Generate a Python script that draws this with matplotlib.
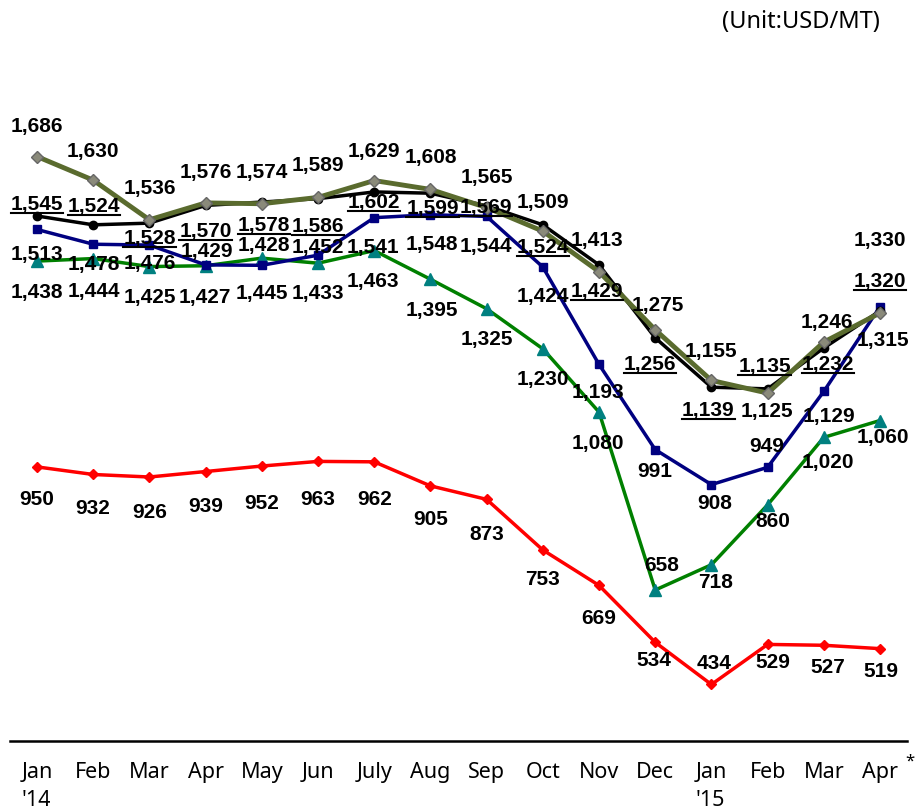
import matplotlib
matplotlib.use("Agg")
import matplotlib.pyplot as plt
from matplotlib.lines import Line2D

months = ["Jan\n'14", "Feb", "Mar", "Apr", "May", "Jun", "July", "Aug", "Sep",
          "Oct", "Nov", "Dec", "Jan\n'15", "Feb", "Mar", "Apr"]

olive_vals = [1686, 1630, 1536, 1576, 1574, 1589, 1629, 1608, 1565, 1509, 1413, 1275, 1155, 1125, 1246, 1315]
black_vals = [1545, 1524, 1528, 1570, 1578, 1586, 1602, 1599, 1569, 1524, 1429, 1256, 1139, 1135, 1232, 1320]
navy_vals = [1513, 1478, 1476, 1429, 1428, 1452, 1541, 1548, 1544, 1424, 1193, 991, 908, 949, 1129, 1330]
green_vals = [1438, 1444, 1425, 1427, 1445, 1433, 1463, 1395, 1325, 1230, 1080, 658, 718, 860, 1020, 1060]
red_vals = [950, 932, 926, 939, 952, 963, 962, 905, 873, 753, 669, 534, 434, 529, 527, 519]

# label offsets in pixels (dx, dy), dy positive = up
olive_off = [(0, 30), (0, 29), (0, 31), (0, 30), (0, 31), (0, 32), (0, 29), (0, 32),
             (0, 30), (0, 29), (-2, 31), (3, 24), (0, 29), (-1, -18), (3, 20), (3, -28)]
black_off = [(0, 11), (1, 18), (0, -15), (0, -26), (2, -23), (0, -28), (0, -11), (2, -15),
             (-1, -2), (0, -23), (-2, -27), (-5, -27), (-3, -23), (-3, 22), (4, -17), (0, 29)]
navy_off = [(0, -25), (1, -20), (0, -18), (1, 13), (2, 20), (0, 8), (-1, -30), (1, -30),
            (-1, -30), (0, -30), (-1, -28), (0, -22), (3, -19), (-1, 21), (5, -25), (0, 66)]
green_off = [(0, -31), (1, -33), (0, -31), (-1, -32), (0, -35), (0, -30), (-1, -31), (1, -31),
             (0, -31), (0, -31), (-1, -31), (6, 25), (4, -18), (5, -17), (4, -25), (3, -17)]
red_off = [(0, -33), (0, -34), (0, -35), (0, -35), (0, -37), (0, -38), (0, -38), (0, -34),
           (0, -35), (0, -30), (0, -33), (-1, -18), (3, 21), (5, -18), (4, -22), (1, -23)]

fig = plt.figure(figsize=(9.17, 8.10), dpi=100)
ax = fig.add_axes([10 / 917, 69 / 810, 897 / 917, 641 / 810])

x = list(range(len(months)))

ax.plot(x, red_vals, "-D", color="#ff0000", lw=2.5, ms=5, mfc="#ff0000", mec="#ff0000", zorder=3)
ax.plot(x, green_vals, "-^", color="#008000", lw=2.5, ms=8, mfc="#008080", mec="#008080", zorder=3)
ax.plot(x, navy_vals, "-s", color="#000080", lw=2.5, ms=6, mfc="#000080", mec="#000080", zorder=3)
ax.plot(x, black_vals, "-o", color="#000000", lw=2.5, ms=6, zorder=4)
ax.plot(x, olive_vals, "-D", color="#5a6b2e", lw=3.5, ms=6, mfc="#8a8a7a", mec="#666666", zorder=5)

label_font = dict(family=["Liberation Sans", "DejaVu Sans"], fontsize=15, fontweight="bold",
                  color="black", ha="center", va="center")

underlined = []
for vals, offs, ul in [(olive_vals, olive_off, False), (black_vals, black_off, True),
                       (navy_vals, navy_off, False), (green_vals, green_off, False),
                       (red_vals, red_off, False)]:
    for i, v in enumerate(vals):
        t = ax.annotate(f"{v:,}", (i, v), xytext=offs[i], textcoords="offset pixels",
                        zorder=6, **label_font)
        if ul:
            underlined.append(t)

ax.set_xlim(-0.48, 15.48)
ax.set_ylim(300, 1820)
ax.set_yticks([])
ax.set_xticks(x)
ax.set_xticklabels(months, family=["Liberation Sans Narrow", "Noto Sans", "DejaVu Sans"],
                   fontsize=15.5, multialignment="left", linespacing=1.45)
ax.tick_params(axis="x", length=0, pad=15)
for s in ["top", "left", "right"]:
    ax.spines[s].set_visible(False)
ax.spines["bottom"].set_linewidth(1.8)

fig.text(880 / 917, 1 - 22 / 810, "(Unit:USD/MT)", ha="right", va="center",
         family=["Noto Sans", "DejaVu Sans"], fontsize=17)
fig.text(910 / 917, 1 - 762 / 810, "*", ha="center", va="center",
         family=["Noto Sans", "DejaVu Sans"], fontsize=12)

# underline black-series labels
fig.canvas.draw()
renderer = fig.canvas.get_renderer()
inv = fig.transFigure.inverted()
for t in underlined:
    bb = t.get_window_extent(renderer)
    (x0, y0), (x1, _) = inv.transform([(bb.x0, bb.y0 + 1), (bb.x1, bb.y0 + 1)])
    fig.add_artist(Line2D([x0, x1], [y0, y0], color="black", lw=1.5, zorder=7))

fig.savefig("out.png", dpi=100)
